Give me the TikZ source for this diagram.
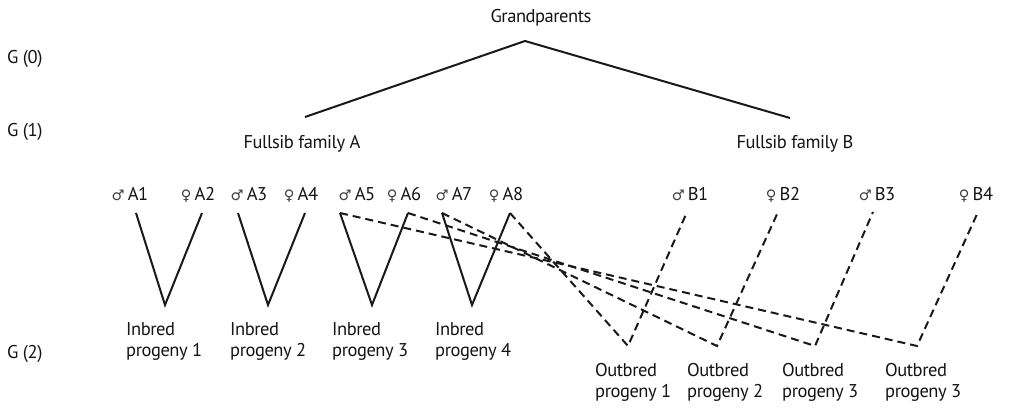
\documentclass[tikz,border=0pt]{standalone}
\usepackage{fontspec}
\setmainfont{PT Sans}[LetterSpace=-2.5]
\newfontfamily\symfont{DejaVu Sans}
\begin{document}
\begin{tikzpicture}[x=1pt,y=-1pt,
  lbl/.style={inner sep=0pt, font=\fontsize{18.5}{21.5}\selectfont, text=black!92},
  ind/.style={lbl, anchor=base},
  two/.style={lbl, align=left, anchor=north west},
  solidln/.style={line width=2pt, black!90},
  dashln/.style={line width=2pt, black!90, dash pattern=on 8pt off 5pt},
]
\useasboundingbox (0,0) rectangle (1011,409);
\newcommand{\male}{{\symfont\fontsize{14.5}{16}\selectfont\color{black!75}♂}}
\newcommand{\female}{{\symfont\fontsize{14.5}{16}\selectfont\color{black!75}♀}}
% generation labels
\node[lbl, anchor=base west] (g0) at (7,64) {G (0)};
\node[lbl, anchor=base west] (g1) at (7,136) {G (1)};
\node[lbl, anchor=base west] (g2) at (7,358) {G (2)};
% top
\node[ind] (gp) at (541,23) {Grandparents};
\node[ind] (fa) at (302,148) {Fullsib family A};
\node[ind] (fb) at (795,148) {Fullsib family B};
\coordinate (apex) at (525,41);
\coordinate (fat) at (305,117);
\coordinate (fbt) at (790,118);
\draw[solidln] (fat) -- (apex) -- (fbt);
% individuals
\node[ind] (A1) at (130,200) {\male\,A1};
\node[ind] (A2) at (198,200) {\female\,A2};
\node[ind] (A3) at (249,200) {\male\,A3};
\node[ind] (A4) at (301,200) {\female\,A4};
\node[ind] (A5) at (357,200) {\male\,A5};
\node[ind] (A6) at (404,200) {\female\,A6};
\node[ind] (A7) at (454,200) {\male\,A7};
\node[ind] (A8) at (506,200) {\female\,A8};
\node[ind] (B1) at (690,200) {\male\,B1};
\node[ind] (B2) at (783,200) {\female\,B2};
\node[ind] (B3) at (877,200) {\male\,B3};
\node[ind] (B4) at (976,200) {\female\,B4};
% connector end points
\coordinate (a1) at (136,213);
\coordinate (a2) at (202,213);
\coordinate (a3) at (238,213);
\coordinate (a4) at (305,213);
\coordinate (a5) at (340,213);
\coordinate (a6) at (408,213);
\coordinate (a7) at (442,213);
\coordinate (a8) at (510,213);
\coordinate (b1) at (687,212);
\coordinate (b2) at (778,212);
\coordinate (b3) at (873,212);
\coordinate (b4) at (978,212);
\coordinate (i1) at (165,305);
\coordinate (i2) at (268,305);
\coordinate (i3) at (372,305);
\coordinate (i4) at (472,305);
\coordinate (o1) at (628,346);
\coordinate (o2) at (717,346);
\coordinate (o3) at (815,346);
\coordinate (o4) at (917,346);
% inbred
\draw[solidln] (a1) -- (i1) -- (a2);
\draw[solidln] (a3) -- (i2) -- (a4);
\draw[solidln] (a5) -- (i3) -- (a6);
\draw[solidln] (a7) -- (i4) -- (a8);
% outbred
\draw[dashln] (a8) -- (o1) -- (b1);
\draw[dashln] (a7) -- (o2) -- (b2);
\draw[dashln] (a6) -- (o3) -- (b3);
\draw[dashln] (a5) -- (o4) -- (b4);
% progeny labels
\node[two] (p1) at (126,322) {Inbred\\progeny 1};
\node[two] (p2) at (230,322) {Inbred\\progeny 2};
\node[two] (p3) at (332,322) {Inbred\\progeny 3};
\node[two] (p4) at (435,322) {Inbred\\progeny 4};
\node[two] (q1) at (595,363) {Outbred\\progeny 1};
\node[two] (q2) at (687,363) {Outbred\\progeny 2};
\node[two] (q3) at (782,363) {Outbred\\progeny 3};
\node[two] (q4) at (885,363) {Outbred\\progeny 3};
\end{tikzpicture}
\end{document}
